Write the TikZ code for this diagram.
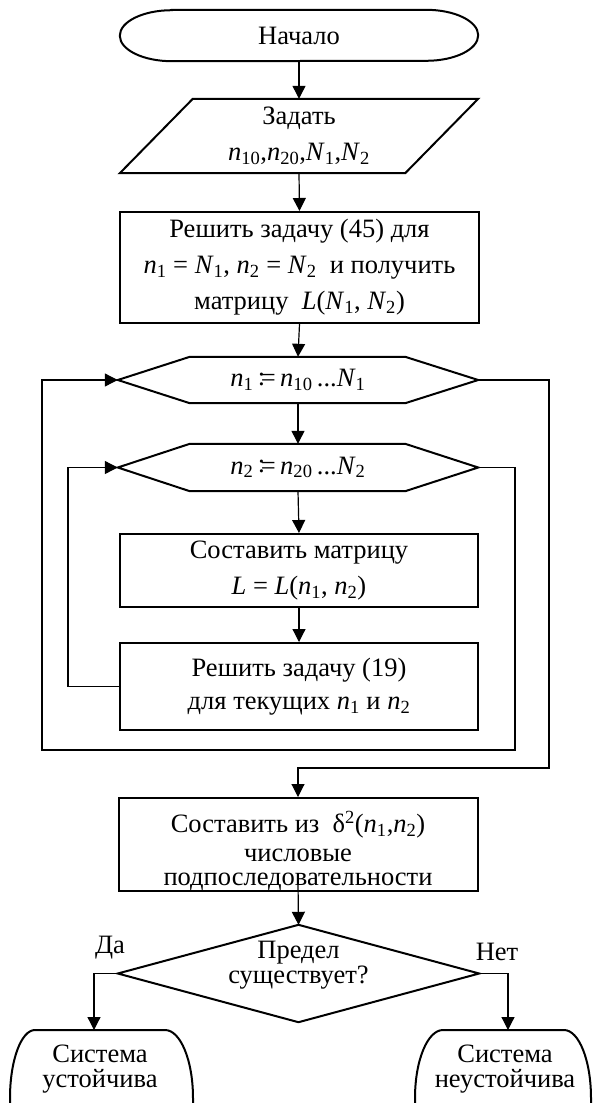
\documentclass[tikz,border=0pt]{standalone}
\usepackage{fontspec}
\setmainfont{Liberation Serif}
\usetikzlibrary{arrows.meta}
\newcommand{\vn}[1]{\textit{n}\textsubscript{#1}}
\newcommand{\vN}[1]{\textit{N}\textsubscript{#1}}
\newcommand{\vL}{\textit{L}}
\newcommand{\asg}{\,\raisebox{1.5pt}{:}\!=\,}
\begin{document}
\begin{tikzpicture}[x=1pt,y=-1pt,
  shp/.style={line width=2pt, line join=miter},
  box/.style={draw, line width=2pt, inner sep=0pt, align=center},
  ghost/.style={inner sep=0pt, align=center},
  arr/.style={line width=1.2pt, -{Triangle[length=13pt,width=13pt]}},
  lin/.style={line width=1.1pt},
  f36/.style={font=\fontsize{26.5}{36}\selectfont},
  f33/.style={font=\fontsize{26.5}{33}\selectfont},
  f25/.style={font=\fontsize{26.5}{25}\selectfont}]

\clip (0,0) rectangle (594,1103);

% shapes with text
\node[ghost,f25,minimum width=358pt,minimum height=51pt] (start) at (299,35.5) {Начало};
\node[ghost,f36,minimum width=358pt,minimum height=74pt] (in) at (299,136) {Задать\\\vn{10},\vn{20},\vN{1},\vN{2}};
\node[box,f36,minimum width=359pt,minimum height=111pt] (b1) at (299.5,267.5)
  {Решить задачу (45) для\\\vn{1} = \vN{1}, \vn{2} = \vN{2}\ \ и получить\\матрицу \ \vL(\vN{1}, \vN{2})};
\node[ghost,f36,minimum width=360pt,minimum height=46pt] (h1) at (298,380) {\vn{1}\asg\vn{10}\,...\vN{1}};
\node[ghost,f36,minimum width=360pt,minimum height=47pt] (h2) at (298,467.5) {\vn{2}\asg\vn{20}\,...\vN{2}};
\node[box,f36,minimum width=358pt,minimum height=73pt] (b2) at (299,570.5) {Составить матрицу\\\vL{} = \vL(\vn{1}, \vn{2})};
\node[box,f33,minimum width=358pt,minimum height=87pt] (b3) at (299,686.5) {Решить задачу (19)\\для текущих \vn{1} и \vn{2}};
\node[box,minimum width=359pt,minimum height=93pt] (b4) at (298,844.5) {};
\node[ghost,font=\fontsize{26.5}{29}\selectfont] (b4t) at (298,851) {Составить из \ δ\textsuperscript{2}(\vn{1},\vn{2})\\числовые\\[-5pt]подпоследовательности};
\node[ghost,minimum width=361pt,minimum height=97pt] (dec) at (298.5,973.5) {};
\node[ghost,f25] (dect) at (298.5,965) {Предел\\существует?};
\node[ghost,f25] (yes) at (100,1069) {Система\\устойчива};
\node[ghost,f25] (no) at (505,1069) {Система\\неустойчива};
\node[ghost,f25] (lyes) at (110,948) {Да};
\node[ghost,f25] (lno) at (497,952) {Нет};
\coordinate (yesin) at (94,1030);
\coordinate (noin) at (508,1030);

% outlines
\draw[shp] ([xshift=52pt]start.north west) -- ([xshift=-52pt]start.north east)
  arc[start angle=90,end angle=-90,x radius=52pt,y radius=25.5pt]
  -- ([xshift=52pt]start.south west)
  arc[start angle=270,end angle=90,x radius=52pt,y radius=25.5pt] -- cycle;
\draw[shp] ([xshift=73pt]in.north west) -- (in.north east) -- ([xshift=-73pt]in.south east) -- (in.south west) -- cycle;
\foreach \h in {h1,h2}{
  \draw[shp] (\h.west) -- ([xshift=72pt]\h.north west) -- ([xshift=-73pt]\h.north east) -- (\h.east)
    -- ([xshift=-73pt]\h.south east) -- ([xshift=72pt]\h.south west) -- cycle;
}
\draw[shp] (dec.north) -- (dec.east) -- (dec.south) -- (dec.west) -- cycle;
\draw[shp] (10,1160) -- (10,1098) arc[start angle=180,end angle=90,x radius=25pt,y radius=68pt]
  -- (165,1030) arc[start angle=90,end angle=0,x radius=28pt,y radius=68pt] -- (193,1160);
\draw[shp] (415,1160) -- (415,1098) arc[start angle=180,end angle=90,x radius=28pt,y radius=68pt]
  -- (564,1030) arc[start angle=90,end angle=0,x radius=27pt,y radius=68pt] -- (591,1160);

% connectors
\draw[arr] (start.south) -- (in.north);
\draw[arr] (in.south) -- (b1.north);
\draw[arr] (b1.south) -- (h1.north);
\draw[arr] (h1.south) -- (h2.north);
\draw[arr] (h2.south) -- (b2.north);
\draw[arr] (b2.south) -- (b3.north);
\draw[lin,-{Triangle[length=13pt,width=13pt]}] (b3.west) -- (68,686.5) -- (68,467.5) -- (h2.west);
\draw[lin,-{Triangle[length=13pt,width=13pt]}] (h2.east) -- (515,467.5) -- (515,750) -- (42,750) -- (42,380) -- (h1.west);
\draw[lin,-{Triangle[length=13pt,width=13pt]}] (h1.east) -- (549,380) -- (549,768) -| (b4.north);
\draw[arr] ([yshift=10pt]b4.south) -- (dec.north);
\draw[arr] (dec.west) -| (yesin);
\draw[arr] (dec.east) -| (noin);
\end{tikzpicture}
\end{document}
